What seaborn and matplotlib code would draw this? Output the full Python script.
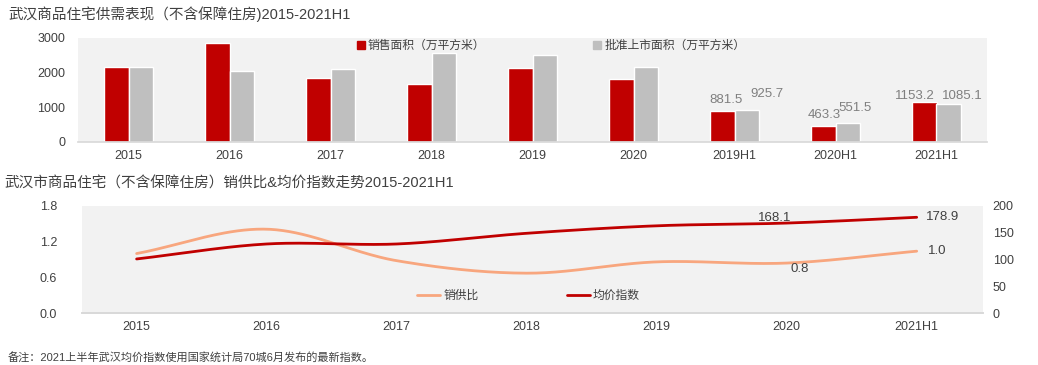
import numpy as np
import pandas as pd
import matplotlib
matplotlib.use("Agg")
import matplotlib.pyplot as plt
import seaborn as sns
from matplotlib.lines import Line2D

# ----- dati -----
bar_cats = ["2015", "2016", "2017", "2018", "2019", "2020", "2019H1", "2020H1", "2021H1"]
sales_area = [2153, 2862, 1835, 1680, 2124, 1807, 881.5, 463.3, 1153.2]
approved_area = [2150, 2037, 2104, 2574, 2507, 2170, 925.7, 551.5, 1085.1]
bar_series = ["销售面积（万平方米）", "批准上市面积（万平方米）"]

line_cats = ["2015", "2016", "2017", "2018", "2019", "2020", "2021H1"]
ratio = [1.0, 1.41, 0.88, 0.67, 0.86, 0.84, 1.04]
price_index = [101, 129, 129, 149, 163, 168.1, 178.9]
line_series = ["销供比", "均价指数"]

RED = "#C00000"
GRAY = "#BFBFBF"
ORANGE = "#F8A67E"
BG = "#F2F2F2"
TXT = "#404040"

sns.set_theme(style="white")
plt.rcParams["font.family"] = ["Liberation Sans", "Noto Sans CJK SC", "DejaVu Sans"]


def smooth(y, n=40):
    # curva tipo Excel "linea smussata" (Catmull-Rom)
    y = np.asarray(y, dtype=float)
    p = np.concatenate([[2 * y[0] - y[1]], y, [2 * y[-1] - y[-2]]])
    xs, ys = [], []
    for i in range(len(y) - 1):
        t = np.linspace(0, 1, n, endpoint=False)
        p0, p1, p2, p3 = p[i], p[i + 1], p[i + 2], p[i + 3]
        yy = 0.5 * ((2 * p1) + (-p0 + p2) * t + (2 * p0 - 5 * p1 + 4 * p2 - p3) * t ** 2
                    + (-p0 + 3 * p1 - 3 * p2 + p3) * t ** 3)
        xs.append(i + t)
        ys.append(yy)
    xs.append([len(y) - 1])
    ys.append([y[-1]])
    return np.concatenate(xs), np.concatenate(ys)


fig = plt.figure(figsize=(10.38, 3.65), dpi=100)
W, H = 1038, 365

# ----- grafico a barre -----
ax1 = fig.add_axes([78 / W, 1 - 142 / H, (987 - 78) / W, (142 - 38) / H])
df = pd.DataFrame({
    "cat": bar_cats * 2,
    "val": sales_area + approved_area,
    "serie": [bar_series[0]] * len(bar_cats) + [bar_series[1]] * len(bar_cats),
})
sns.barplot(data=df, x="cat", y="val", hue="serie", palette=[RED, GRAY],
            width=0.48, gap=0, ax=ax1, legend=False, saturation=1)
ax1.set_facecolor(BG)
ax1.set_xlim(-0.5, len(bar_cats) - 0.5)
ax1.set_ylim(0, 3000)
ax1.set_yticks([0, 1000, 2000, 3000])
ax1.set_xlabel("")
ax1.set_ylabel("")
for s in ["top", "right", "left"]:
    ax1.spines[s].set_visible(False)
ax1.spines["bottom"].set_color("#D9D9D9")
ax1.tick_params(axis="both", length=0, labelsize=9, colors=TXT)
ax1.tick_params(axis="x", pad=6)
ax1.tick_params(axis="y", pad=9)

# etichette valori (solo semestri), spostate per non sovrapporsi
lab_dx = {6: (-0.08, 0.32), 7: (-0.11, 0.19), 8: (-0.21, 0.26)}
lab_dy = {6: (330, 450), 7: (320, 420), 8: (170, 240)}
for i in range(6, 9):
    ax1.text(i + lab_dx[i][0], sales_area[i] + lab_dy[i][0], f"{sales_area[i]:.1f}",
             ha="center", va="center", fontsize=9.5, color="#7F7F7F")
    ax1.text(i + lab_dx[i][1], approved_area[i] + lab_dy[i][1], f"{approved_area[i]:.1f}",
             ha="center", va="center", fontsize=9.5, color="#7F7F7F")

h1 = [Line2D([], [], marker="s", ls="", color=RED, markersize=5.5),
      Line2D([], [], marker="s", ls="", color=GRAY, markersize=5.5)]
ax1.legend(h1, bar_series, loc="center left", bbox_to_anchor=(0.307, 0.923), ncol=2,
           frameon=False, fontsize=8.5, handlelength=0.6, handletextpad=0.3,
           columnspacing=9.2, labelcolor=TXT, borderpad=0, borderaxespad=0)

fig.text(8 / W, 1 - 14 / H, "武汉商品住宅供需表现（不含保障住房)2015-2021H1", fontsize=10.5,
         color=TXT, va="center", ha="left")

# ----- grafico a linee -----
ax2 = fig.add_axes([82 / W, 1 - 313 / H, (983 - 82) / W, (313 - 206) / H])
ax3 = ax2.twinx()
xr, yr = smooth(ratio)
xp, yp = smooth(price_index)
sns.lineplot(x=xr, y=yr, ax=ax2, color=ORANGE, lw=2, sort=False)
sns.lineplot(x=xp, y=yp, ax=ax3, color=RED, lw=2, sort=False)
ax2.set_facecolor(BG)
ax2.set_xlim(-0.42, 6.51)
ax2.set_ylim(0, 1.8)
ax2.set_yticks([0, 0.6, 1.2, 1.8])
ax2.set_yticklabels(["0.0", "0.6", "1.2", "1.8"])
ax3.set_ylim(0, 200)
ax3.set_yticks([0, 50, 100, 150, 200])
ax2.set_xticks(range(len(line_cats)))
ax2.set_xticklabels(line_cats)
for a in (ax2, ax3):
    for s in ["top", "right", "left"]:
        a.spines[s].set_visible(False)
    a.spines["bottom"].set_color("#D9D9D9")
    a.tick_params(axis="both", length=0, labelsize=9, colors=TXT)
ax2.tick_params(axis="x", pad=6)
ax2.tick_params(axis="y", pad=18)
ax3.tick_params(axis="y", pad=7)

ax3.text(4.91, 177.6, f"{price_index[5]:.1f}", ha="center", va="center", fontsize=9.5, color=TXT)
ax3.text(6.07, price_index[6], f"{price_index[6]:.1f}", ha="left", va="center", fontsize=9.5, color=TXT)
ax2.text(6.09, ratio[6], f"{ratio[6]:.1f}", ha="left", va="center", fontsize=9.5, color=TXT)
ax2.text(5.1, 0.74, f"{ratio[5]:.1f}", ha="center", va="center", fontsize=9.5, color=TXT)

h2 = [Line2D([], [], color=ORANGE, lw=2), Line2D([], [], color=RED, lw=2)]
ax3.legend(h2, line_series, loc="center left", bbox_to_anchor=(0.372, 0.16), ncol=2,
           frameon=False, fontsize=8.5, handlelength=1.95, handletextpad=0.25,
           columnspacing=7.5, labelcolor=TXT, borderpad=0, borderaxespad=0)

fig.text(4 / W, 1 - 184 / H, "武汉市商品住宅（不含保障住房）销供比&均价指数走势2015-2021H1", fontsize=10.5,
         color=TXT, va="center", ha="left")
fig.text(8 / W, 1 - 357 / H, "备注：2021上半年武汉均价指数使用国家统计局70城6月发布的最新指数。", fontsize=8,
         color=TXT, va="center", ha="left")

fig.savefig("out.png", dpi=100)
